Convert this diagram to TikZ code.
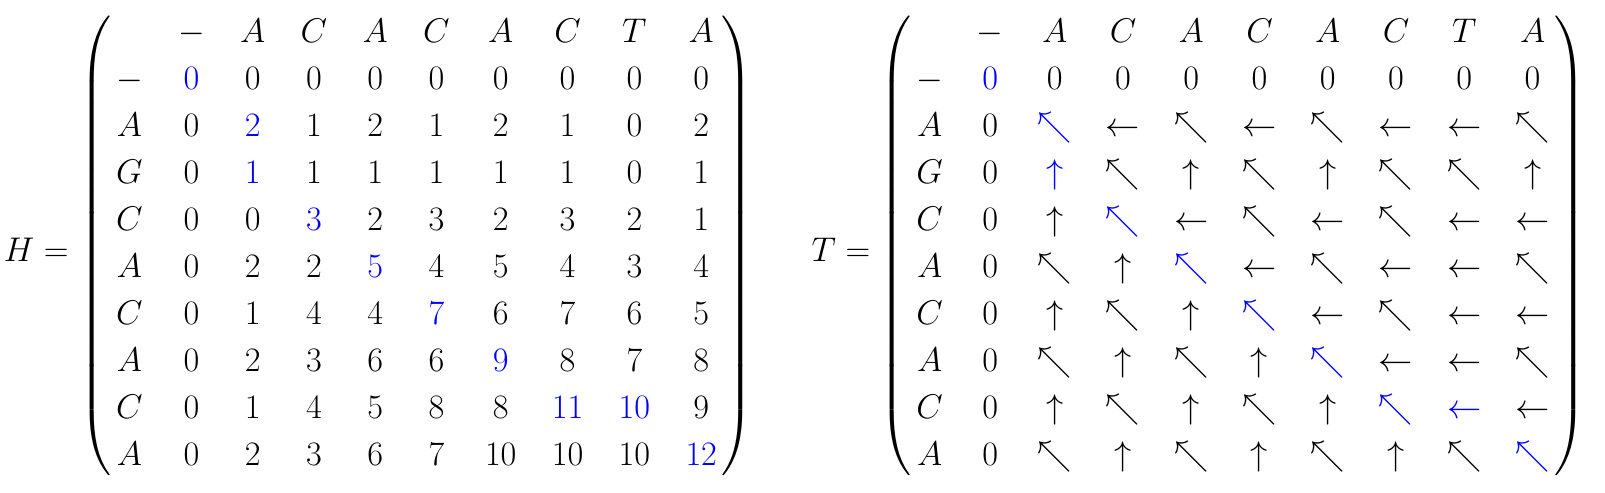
\RequirePackage{fix-cm}
\documentclass[tikz,border=0pt]{standalone}
\usepackage{amsmath}
\usetikzlibrary{matrix,positioning}

\begin{document}
\begin{tikzpicture}[
        font=\fontsize{19.5}{23}\selectfont,
        tab/.style={matrix of math nodes, inner xsep=0.04cm, inner ysep=-3pt,
            left delimiter=(, right delimiter=),
            every delimiter/.style={inner sep=0pt},
            column sep=0.708cm, row sep={0.94cm,between origins},
            nodes={inner sep=0pt, anchor=base}},
        low/.style={text depth=0.3cm},
        hl/.style={text=blue}]
    \useasboundingbox (0,0) rectangle (32.1,9.84);

    % score matrix
    \matrix (Hmat) [tab] at (8.33,4.85) {
                 & -       & A       & C       & A       & C       & A       & C        & T        & A        \\
        -        & |[hl]|0 & 0       & 0       & 0       & 0       & 0       & 0        & 0        & 0        \\
        A        & 0       & |[hl]|2 & 1       & 2       & 1       & 2       & 1        & 0        & 2        \\
        G        & 0       & |[hl]|1 & 1       & 1       & 1       & 1       & 1        & 0        & 1        \\
        C        & 0       & 0       & |[hl]|3 & 2       & 3       & 2       & 3        & 2        & 1        \\
        A        & 0       & 2       & 2       & |[hl]|5 & 4       & 5       & 4        & 3        & 4        \\
        C        & 0       & 1       & 4       & 4       & |[hl]|7 & 6       & 7        & 6        & 5        \\
        A        & 0       & 2       & 3       & 6       & 6       & |[hl]|9 & 8        & 7        & 8        \\
        C        & 0       & 1       & 4       & 5       & 8       & 8       & |[hl]|11 & |[hl]|10 & 9        \\
        |[low]|A & 0       & 2       & 3       & 6       & 7       & 10      & 10       & 10       & |[hl]|12 \\
    };
    \node[left=0.78cm of Hmat] (Hlab) {$H =$};

    % traceback matrix
    \matrix (Tmat) [tab, column sep=0.68cm] at (24.66,4.85) {
                 & -       & A                & C                & A                & C                & A                & C                & T                 & A                \\
        -        & |[hl]|0 & 0                & 0                & 0                & 0                & 0                & 0                & 0                 & 0                \\
        A        & 0       & |[hl]|\nwarrow   & \leftarrow       & \nwarrow         & \leftarrow       & \nwarrow         & \leftarrow       & \leftarrow        & \nwarrow         \\
        G        & 0       & |[hl]|\uparrow   & \nwarrow         & \uparrow         & \nwarrow         & \uparrow         & \nwarrow         & \nwarrow          & \uparrow         \\
        C        & 0       & \uparrow         & |[hl]|\nwarrow   & \leftarrow       & \nwarrow         & \leftarrow       & \nwarrow         & \leftarrow        & \leftarrow       \\
        A        & 0       & \nwarrow         & \uparrow         & |[hl]|\nwarrow   & \leftarrow       & \nwarrow         & \leftarrow       & \leftarrow        & \nwarrow         \\
        C        & 0       & \uparrow         & \nwarrow         & \uparrow         & |[hl]|\nwarrow   & \leftarrow       & \nwarrow         & \leftarrow        & \leftarrow       \\
        A        & 0       & \nwarrow         & \uparrow         & \nwarrow         & \uparrow         & |[hl]|\nwarrow   & \leftarrow       & \leftarrow        & \nwarrow         \\
        C        & 0       & \uparrow         & \nwarrow         & \uparrow         & \nwarrow         & \uparrow         & |[hl]|\nwarrow   & |[hl]|\leftarrow  & \leftarrow       \\
        |[low]|A & 0       & \nwarrow         & \uparrow         & \nwarrow         & \uparrow         & \nwarrow         & \uparrow         & \nwarrow          & |[hl]|\nwarrow   \\
    };
    \node[left=0.75cm of Tmat] (Tlab) {$T =$};
\end{tikzpicture}
\end{document}
